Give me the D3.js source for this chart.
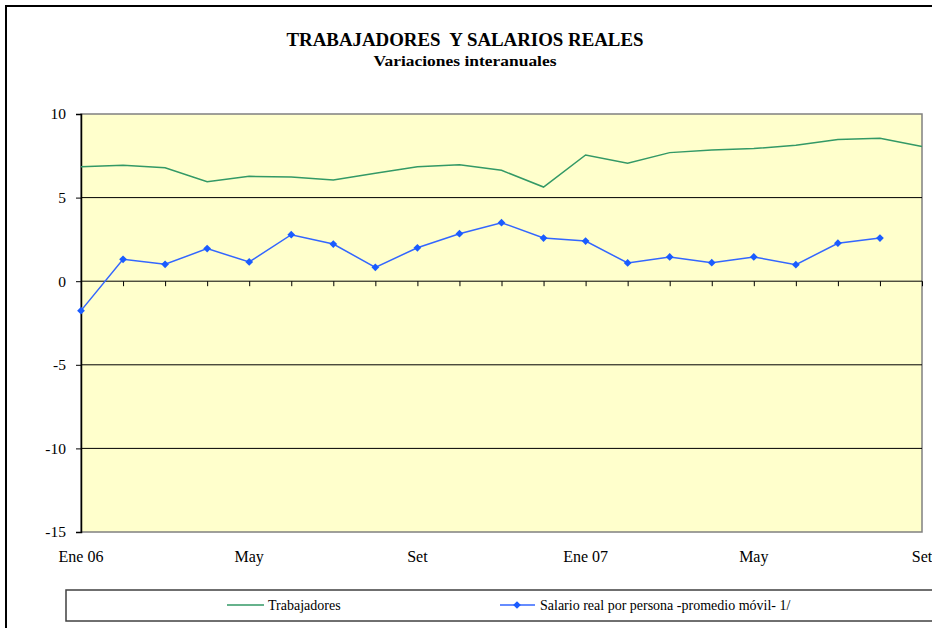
<!DOCTYPE html>
<meta charset='utf-8'>
<style>
body { margin: 0; background: #fff; }
svg text { font-family: 'Liberation Serif', 'Times New Roman', Times, 'DejaVu Serif', serif; fill: #000; }
.title { font-size: 18px; font-weight: bold; white-space: pre; }
.subtitle { font-size: 15px; font-weight: bold; }
.legend text { font-size: 14px; }
</style>
<svg width='932' height='628'></svg>
<script src='https://d3js.org/d3.v7.min.js'></script>
<script>

// months Ene 06 .. Set 07
var months = ['Ene 06','Feb','Mar','Abr','May','Jun','Jul','Ago','Set','Oct','Nov','Dic',
              'Ene 07','Feb','Mar','Abr','May','Jun','Jul','Ago','Set'];
var tickLabels = {0: 'Ene 06', 4: 'May', 8: 'Set', 12: 'Ene 07', 16: 'May', 20: 'Set'};
var yTicks = [-15, -10, -5, 0, 5, 10];

var trabajadores = [6.85, 6.93, 6.79, 5.95, 6.27, 6.23, 6.05, 6.45, 6.85, 6.97, 6.63,
                    5.63, 7.55, 7.05, 7.69, 7.85, 7.93, 8.13, 8.47, 8.55, 8.05];
var salario = [-1.76, 1.31, 1.01, 1.95, 1.15, 2.78, 2.22, 0.83, 2.0, 2.84, 3.5,
               2.58, 2.4, 1.09, 1.45, 1.11, 1.45, 0.99, 2.27, 2.58];

var svg = d3.select('svg');
var plotL = 81, plotR = 922, plotT = 114, plotB = 532;

var x = d3.scaleLinear().domain([0, months.length - 1]).range([plotL, plotR]);
var y = d3.scaleLinear().domain([-15, 10]).range([plotB, plotT]);

// outer frame
svg.append('rect')
    .attr('x', 6).attr('y', 6).attr('width', 940).attr('height', 640)
    .attr('fill', 'none').attr('stroke', '#000').attr('stroke-width', 2);

svg.append('text').attr('class', 'title')
    .attr('x', 465).attr('y', 46).attr('text-anchor', 'middle')
    .attr('textLength', 357).attr('lengthAdjust', 'spacingAndGlyphs')
    .text('TRABAJADORES\u00a0 Y SALARIOS REALES');
svg.append('text').attr('class', 'subtitle')
    .attr('x', 465).attr('y', 66).attr('text-anchor', 'middle')
    .attr('textLength', 183).attr('lengthAdjust', 'spacingAndGlyphs')
    .text('Variaciones interanuales');

// plot area
svg.append('rect')
    .attr('x', plotL).attr('y', plotT).attr('width', plotR - plotL).attr('height', plotB - plotT)
    .attr('fill', '#ffffcc').attr('stroke', '#808080').attr('stroke-width', 1.5);

// gridlines
svg.append('g')
  .selectAll('line')
  .data(yTicks.filter(function(d) { return d > -15 && d < 10; }))
  .enter().append('line')
    .attr('x1', plotL).attr('x2', plotR)
    .attr('y1', function(d) { return y(d); })
    .attr('y2', function(d) { return y(d); })
    .attr('stroke', '#000').attr('stroke-width', 1);

// y axis
var yAxis = svg.append('g')
    .attr('transform', 'translate(' + plotL + ',0)')
    .call(d3.axisLeft(y).tickValues(yTicks).tickSize(5).tickPadding(10)
      .tickFormat(function(d) { return String(d); }));
yAxis.attr('font-family', null).attr('font-size', null);
yAxis.select('.domain').attr('stroke', '#000').attr('stroke-width', 1.5);
yAxis.selectAll('.tick line').attr('stroke', '#000');
yAxis.selectAll('.tick text').style('font-size', '15.5px');

// x axis on zero line, ticks pointing down
var xAxis = svg.append('g')
    .attr('transform', 'translate(0,' + y(0) + ')')
    .call(d3.axisBottom(x).tickValues(d3.range(months.length)).tickSize(5).tickFormat(''));
xAxis.select('.domain').remove();
xAxis.selectAll('.tick line').attr('stroke', '#000');

// x labels below plot
svg.append('g')
  .selectAll('text')
  .data(d3.range(months.length).filter(function(i) { return tickLabels[i]; }))
  .enter().append('text')
    .attr('x', function(i) { return x(i); })
    .attr('y', 562)
    .attr('text-anchor', 'middle')
    .style('font-size', '16px')
    .text(function(i) { return tickLabels[i]; });

var line = d3.line()
    .x(function(d, i) { return x(i); })
    .y(function(d) { return y(d); });

svg.append('path')
    .datum(trabajadores)
    .attr('d', line)
    .attr('fill', 'none').attr('stroke', '#339966').attr('stroke-width', 1.5);

svg.append('path')
    .datum(salario)
    .attr('d', line)
    .attr('fill', 'none').attr('stroke', '#3366ff').attr('stroke-width', 1.5);

// diamond marker: a square turned 45 degrees
var marker = d3.symbol().type(d3.symbolSquare).size(30);
svg.append('g')
  .selectAll('path')
  .data(salario)
  .enter().append('path')
    .attr('d', marker)
    .attr('transform', function(d, i) { return 'translate(' + x(i) + ',' + y(d) + ') rotate(45)'; })
    .attr('fill', '#1a5cff');

// legend
var legend = svg.append('g').attr('class', 'legend');
legend.append('rect')
    .attr('x', 66).attr('y', 590).attr('width', 900).attr('height', 31)
    .attr('fill', '#fff').attr('stroke', '#404040').attr('stroke-width', 1.5);

legend.append('line')
    .attr('x1', 227).attr('x2', 264).attr('y1', 605).attr('y2', 605)
    .attr('stroke', '#339966').attr('stroke-width', 1.5);
legend.append('text').attr('x', 268).attr('y', 610).text('Trabajadores');

legend.append('line')
    .attr('x1', 500).attr('x2', 535).attr('y1', 605).attr('y2', 605)
    .attr('stroke', '#3366ff').attr('stroke-width', 1.5);
legend.append('path')
    .attr('d', marker)
    .attr('transform', 'translate(517,605) rotate(45)')
    .attr('fill', '#1a5cff');
legend.append('text').attr('x', 540).attr('y', 610).text('Salario real por persona -promedio móvil- 1/');

</script>
